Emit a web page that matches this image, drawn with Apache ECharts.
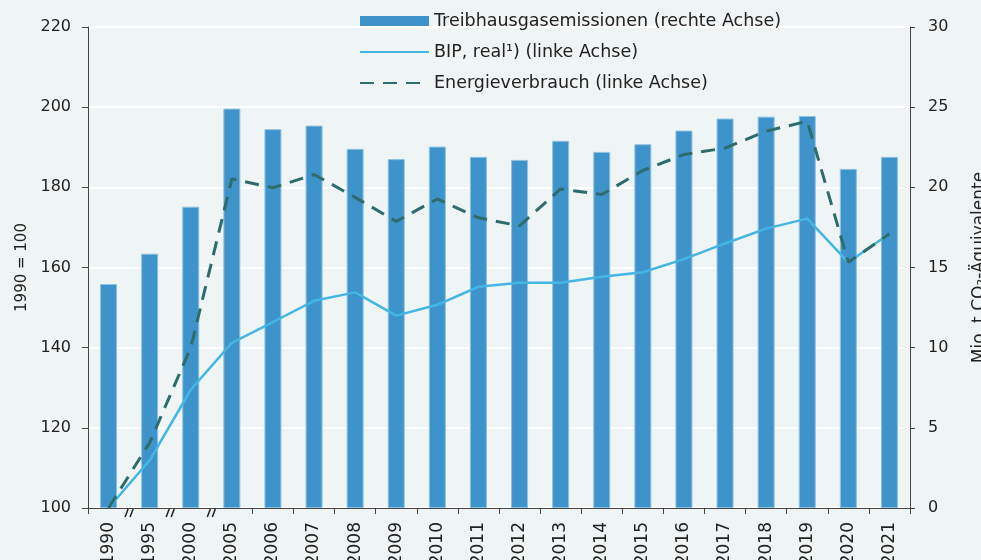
<!DOCTYPE html>
<html><head><meta charset="utf-8">
<script src="https://cdn.jsdelivr.net/npm/echarts@6/dist/echarts.min.js"></script>
<style>html,body{margin:0;padding:0;background:#eff4f4;overflow:hidden}#c{width:981px;height:560px}</style>
</head><body><div id="c"></div>
<script>
const categories = ['1990','1995','2000','2005','2006','2007','2008','2009','2010','2011','2012','2013','2014','2015','2016','2017','2018','2019','2020','2021'];
const emissions = [13.97,15.86,18.79,24.91,23.63,23.85,22.40,21.76,22.54,21.90,21.71,22.90,22.21,22.69,23.54,24.29,24.41,24.45,21.15,21.90];
const bip = [100,111.9,129.5,141.2,146.4,151.7,153.8,148.0,150.7,155.2,156.2,156.2,157.7,158.8,162.1,166.0,169.7,172.2,161.3,168.4];
const energy = [100,116.3,140.0,182.1,179.9,183.2,177.5,171.5,177.1,172.4,170.4,179.6,178.2,184.2,188.2,189.8,194.0,196.5,161.3,168.4];
const breakAfter = [0,1,2];
const seriesNames = ['Treibhausgasemissionen (rechte Achse)','BIP, real¹) (linke Achse)','Energieverbrauch (linke Achse)'];

const FONT = 'DejaVu Sans';
const TXT = '#222';
const hiddenSym = {color:'rgba(0,0,0,0)',borderColor:'rgba(0,0,0,0)',borderWidth:0,opacity:0};
const chart = echarts.init(document.getElementById('c'), null, {renderer:'canvas'});
chart.setOption({
  backgroundColor:'#eff4f4',
  animation:false,
  textStyle:{fontFamily:FONT},
  grid:{left:88,right:71,top:27,bottom:52,containLabel:false,outerBoundsMode:'none'},
  legend:{
    orient:'vertical', left:359, top:12, padding:0, itemWidth:69, itemHeight:10, itemGap:13,
    textStyle:{fontFamily:FONT,fontSize:17.5,color:TXT,lineHeight:18},
    data:[
      {name:seriesNames[0],icon:'rect',itemStyle:{borderWidth:0,color:'#3e94ca'}},
      {name:seriesNames[1],itemStyle:hiddenSym},
      {name:seriesNames[2],itemStyle:hiddenSym}
    ]
  },
  xAxis:{
    type:'category', data:categories, boundaryGap:true,
    axisLine:{lineStyle:{color:'#444',width:1}},
    axisTick:{show:true,length:6,lineStyle:{color:'#444'},interval:function(i){return i===0||i>=4;}},
    axisLabel:{rotate:90,fontSize:17,color:TXT,margin:14,fontFamily:FONT,interval:0},
    splitLine:{show:false}
  },
  yAxis:[
    {type:'value',min:100,max:220,interval:20,position:'left',
     name:'1990 = 100',nameLocation:'middle',nameGap:57,nameRotate:90,
     nameTextStyle:{fontSize:15,color:TXT,fontFamily:FONT},
     axisLine:{show:true,lineStyle:{color:'#444'}},
     axisTick:{show:true,length:6,lineStyle:{color:'#444'}},
     axisLabel:{fontSize:16,color:TXT,margin:17,fontFamily:FONT},
     splitLine:{show:true,lineStyle:{color:'#ffffff',width:2}}},
    {type:'value',min:0,max:30,interval:5,position:'right',
     name:'Mio. t CO₂-Äquivalente',nameLocation:'middle',nameGap:61,nameRotate:90,
     nameTextStyle:{fontSize:17,color:TXT,fontFamily:FONT},
     axisLine:{show:true,lineStyle:{color:'#444'}},
     axisTick:{show:true,length:5,lineStyle:{color:'#444'}},
     axisLabel:{fontSize:16,color:TXT,margin:18,fontFamily:FONT},
     splitLine:{show:false}}
  ],
  series:[
    {name:seriesNames[0],type:'bar',yAxisIndex:1,data:emissions,barWidth:17,
     itemStyle:{color:'#3e94ca',borderColor:'#8ec2e2',borderWidth:1}},
    {name:seriesNames[1],type:'line',yAxisIndex:0,data:bip,symbol:'none',
     lineStyle:{color:'#45b6e4',width:2.5},itemStyle:{color:'#45b6e4'}},
    {name:seriesNames[2],type:'line',yAxisIndex:0,data:energy,symbol:'none',
     lineStyle:{color:'#2d6b6c',width:3,type:[14,9]},itemStyle:{color:'#2d6b6c'}}
  ]
});
const y0 = chart.convertToPixel({yAxisIndex:0},100);
const g = breakAfter.map(function(i){
  const xa = chart.convertToPixel({xAxisIndex:0},categories[i]);
  const xb = chart.convertToPixel({xAxisIndex:0},categories[i+1]);
  const xm = (xa+xb)/2;
  return {type:'group',children:[
    {type:'line',shape:{x1:xm-4,y1:y0+9,x2:xm-1,y2:y0+1},style:{stroke:'#222',lineWidth:1.5}},
    {type:'line',shape:{x1:xm+1,y1:y0+9,x2:xm+4,y2:y0+1},style:{stroke:'#222',lineWidth:1.5}}
  ]};
});
chart.setOption({graphic:g});
</script></body></html>
